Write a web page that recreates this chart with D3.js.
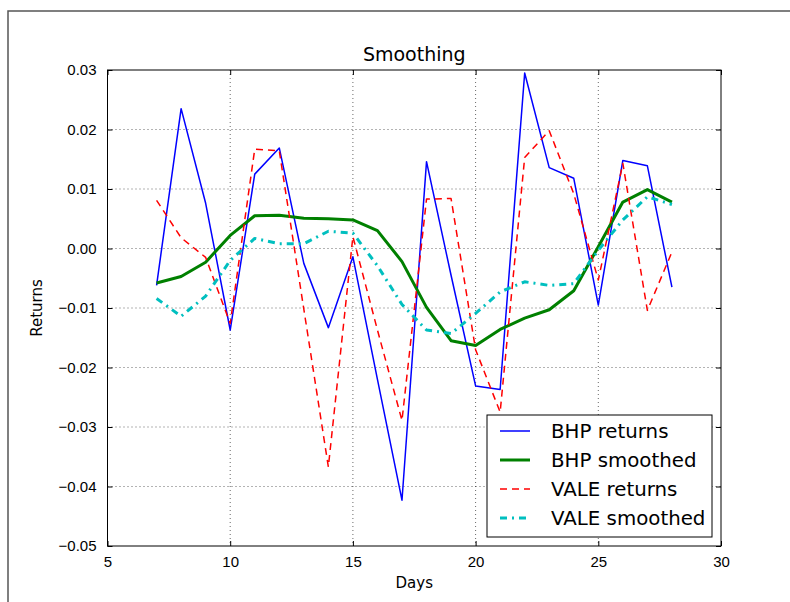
<!DOCTYPE html>
<html>
<head>
<meta charset="utf-8">
<script src="https://cdn.jsdelivr.net/npm/d3@7"></script>
<style>
  body { margin: 0; background: #fff; }
  svg { font-family: "DejaVu Sans", sans-serif; }
</style>
</head>
<body>
<svg id="chart" width="790" height="602"></svg>
<script>
// data
var days = [7, 8, 9, 10, 11, 12, 13, 14, 15, 16, 17, 18, 19, 20, 21, 22, 23, 24, 25, 26, 27, 28];
var bhpReturns = [-0.0062, 0.0235, 0.0076, -0.0137, 0.0125, 0.0169, -0.0025, -0.0133, -0.0014, -0.0220, -0.0423,
  0.0146, -0.0045, -0.0231, -0.0237, 0.0295, 0.0136, 0.0118, -0.0095, 0.0148, 0.0139, -0.0065];
var bhpSmoothed = [-0.0058, -0.0047, -0.0023, 0.0022, 0.0055, 0.0056, 0.0051, 0.0050, 0.0048, 0.0030, -0.0022,
  -0.0099, -0.0155, -0.0163, -0.0136, -0.0117, -0.0103, -0.0071, 0.0003, 0.0078, 0.0099, 0.0078];
var valeReturns = [0.0081, 0.0018, -0.0015, -0.0126, 0.0167, 0.0164, -0.0102, -0.0367, 0.0020, -0.0137, -0.0289,
  0.0083, 0.0084, -0.0170, -0.0275, 0.0153, 0.0198, 0.0092, -0.0053, 0.0143, -0.0104, -0.0006];
var valeSmoothed = [-0.0084, -0.0114, -0.0080, -0.0020, 0.0017, 0.0008, 0.0008, 0.0029, 0.0026, -0.0029, -0.0094,
  -0.0137, -0.0143, -0.0109, -0.0073, -0.0056, -0.0062, -0.0059, -0.0003, 0.0048, 0.0087, 0.0074];
var xTicks = [5, 10, 15, 20, 25, 30];
var yTicks = [0.03, 0.02, 0.01, 0.00, -0.01, -0.02, -0.03, -0.04, -0.05];

var series = [
  {name: "BHP returns", values: bhpReturns, color: "#0000ff", width: 1.5, dash: null},
  {name: "BHP smoothed", values: bhpSmoothed, color: "#008000", width: 3, dash: null},
  {name: "VALE returns", values: valeReturns, color: "#ff0000", width: 1.5, dash: "7,5"},
  {name: "VALE smoothed", values: valeSmoothed, color: "#00bfbf", width: 3, dash: "7,5,2,5"}
];

var svg = d3.select("#chart");
var margin = {top: 70, right: 69, bottom: 56, left: 107.5};
var width = 790 - margin.left - margin.right,
    height = 602 - margin.top - margin.bottom;

// outer frame (only left and top visible)
svg.append("path")
    .attr("d", "M8,602V11H790")
    .attr("fill", "none")
    .attr("stroke", "#555")
    .attr("stroke-width", 1.5);

var g = svg.append("g").attr("transform", "translate(" + margin.left + "," + margin.top + ")");

var x = d3.scaleLinear().domain([5, 30]).range([0, width]);
var y = d3.scaleLinear().domain([-0.05, 0.03]).range([height, 0]);

// grid
g.append("g").selectAll("line")
    .data(xTicks.slice(1, -1))
    .enter().append("line")
    .attr("x1", function(d) { return x(d); })
    .attr("x2", function(d) { return x(d); })
    .attr("y1", 0).attr("y2", height)
    .attr("stroke", "#000").attr("stroke-width", 0.6).attr("stroke-dasharray", "1,3");
g.append("g").selectAll("line")
    .data(yTicks.slice(1, -1))
    .enter().append("line")
    .attr("y1", function(d) { return y(d); })
    .attr("y2", function(d) { return y(d); })
    .attr("x1", 0).attr("x2", width)
    .attr("stroke", "#000").attr("stroke-width", 0.6).attr("stroke-dasharray", "1,3");

// axes, ticks inward like matplotlib classic
function styleAxis(sel) {
  sel.select(".domain").remove();
  sel.selectAll(".tick line").attr("stroke", "#000");
  sel.selectAll(".tick text").attr("fill", "#000").style("font-size", "15px");
}
g.append("g")
    .attr("transform", "translate(0," + height + ")")
    .call(d3.axisBottom(x).tickValues(xTicks).tickSizeInner(-5).tickSizeOuter(0).tickPadding(10))
    .call(styleAxis);
g.append("g")
    .call(d3.axisTop(x).tickValues(xTicks).tickSizeInner(-5).tickSizeOuter(0).tickFormat(""))
    .call(styleAxis);
g.append("g")
    .call(d3.axisLeft(y).tickValues(yTicks).tickFormat(d3.format(".2f")).tickSizeInner(-5).tickSizeOuter(0).tickPadding(11))
    .call(styleAxis);
g.append("g")
    .attr("transform", "translate(" + width + ",0)")
    .call(d3.axisRight(y).tickValues(yTicks).tickSizeInner(-5).tickSizeOuter(0).tickFormat(""))
    .call(styleAxis);

// lines
var line = d3.line()
    .x(function(d, i) { return x(days[i]); })
    .y(function(d) { return y(d); });

var plot = g.append("g");
series.forEach(function(s) {
  plot.append("path")
      .datum(s.values)
      .attr("fill", "none")
      .attr("stroke", s.color)
      .attr("stroke-width", s.width)
      .attr("stroke-dasharray", s.dash)
      .attr("stroke-linejoin", "round")
      .attr("d", line);
});

// plot frame
g.append("rect")
    .attr("width", width).attr("height", height)
    .attr("fill", "none").attr("stroke", "#000").attr("stroke-width", 1);

// title and labels
g.append("text")
    .attr("x", width / 2).attr("y", -9)
    .attr("text-anchor", "middle")
    .style("font-size", "19px")
    .text("Smoothing");
g.append("text")
    .attr("x", width / 2).attr("y", height + 42)
    .attr("text-anchor", "middle")
    .style("font-size", "15px")
    .text("Days");
g.append("text")
    .attr("transform", "translate(-66," + (height / 2) + ") rotate(-90)")
    .attr("text-anchor", "middle")
    .style("font-size", "15px")
    .text("Returns");

// legend
var legend = svg.append("g").attr("transform", "translate(487,415)");
legend.append("rect")
    .attr("width", 225).attr("height", 122)
    .attr("fill", "#fff").attr("stroke", "#000").attr("stroke-width", 1);
var rows = legend.selectAll(".row")
    .data(series)
    .enter().append("g")
    .attr("class", "row")
    .attr("transform", function(d, i) { return "translate(0," + (16 + i * 29) + ")"; });
rows.append("line")
    .attr("x1", 13).attr("x2", 43)
    .attr("stroke", function(d) { return d.color; })
    .attr("stroke-width", function(d) { return d.width; })
    .attr("stroke-dasharray", function(d) { return d.dash; });
rows.append("text")
    .attr("x", 64).attr("dy", "0.35em")
    .style("font-size", "19.8px")
    .text(function(d) { return d.name; });
</script>
</body>
</html>
